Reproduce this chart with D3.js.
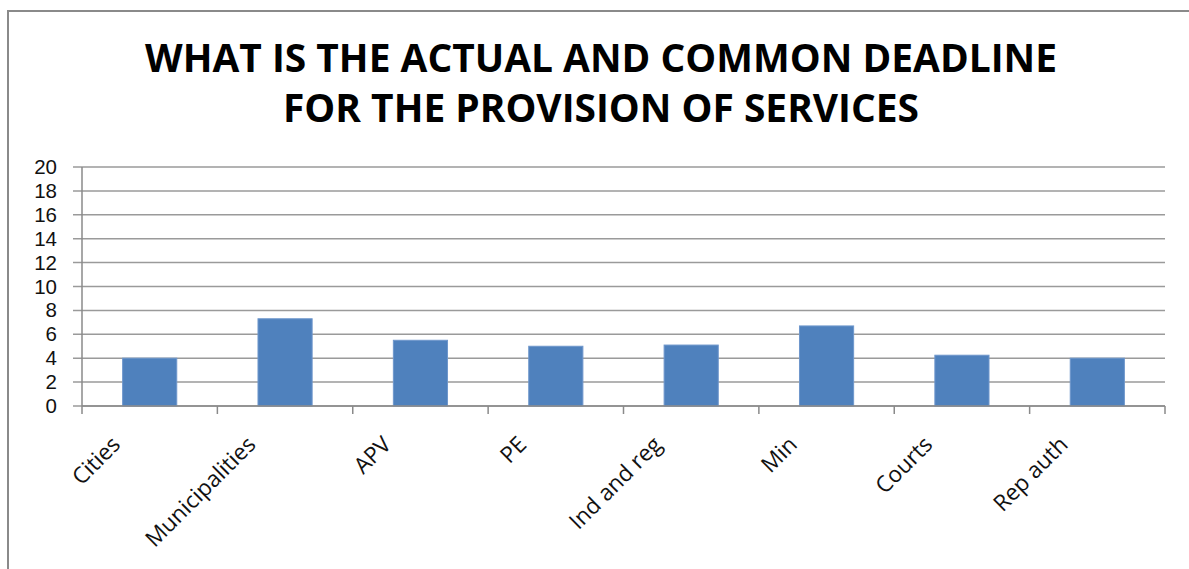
<!DOCTYPE html>
<html>
<head>
<meta charset="utf-8">
<script src="https://cdn.jsdelivr.net/npm/d3@7"></script>
<style>
  body { margin: 0; background: #fff; }
</style>
</head>
<body>
<div id="chart"></div>
<script>

// categories and average deadline per institution type
const categories = ["Cities", "Municipalities", "APV", "PE", "Ind and reg", "Min", "Courts", "Rep auth"];
const deadlines = [4.0, 7.3, 5.5, 5.0, 5.1, 6.7, 4.25, 4.0];
const yTicks = [0, 2, 4, 6, 8, 10, 12, 14, 16, 18, 20];
const titleLines = ["WHAT IS THE ACTUAL AND COMMON DEADLINE", "FOR THE PROVISION OF SERVICES"];

function main() {

    const W = 1189, H = 569;
    const margin = {top: 167, right: 24, bottom: 163, left: 82},
        width = W - margin.left - margin.right,
        height = H - margin.top - margin.bottom;

    const root = d3.select("#chart")
        .append("svg")
        .attr("width", W)
        .attr("height", H);

    // chart area border
    root.append("rect")
        .attr("x", 8)
        .attr("y", 11)
        .attr("width", W)
        .attr("height", H)
        .attr("fill", "#fff")
        .attr("stroke", "#8a8a8a")
        .attr("stroke-width", 2);

    // title, two centred lines
    root.selectAll(".title")
        .data(titleLines)
        .join("text")
        .attr("class", "title")
        .attr("x", 601)
        .attr("y", (d, i) => 72 + i * 50)
        .attr("text-anchor", "middle")
        .attr("font-family", "'Open Sans', sans-serif")
        .attr("font-weight", "bold")
        .attr("font-size", "40px")
        .attr("textLength", (d, i) => i === 0 ? 912 : 636)
        .attr("lengthAdjust", "spacingAndGlyphs")
        .text(d => d);

    const svg = root.append("g")
        .attr("transform", `translate(${margin.left},${margin.top})`);

    const x = d3.scaleBand()
        .domain(categories)
        .range([0, width])
        .paddingInner(0.6)
        .paddingOuter(0.3);

    const y = d3.scaleLinear()
        .domain([0, 20])
        .range([height, 0]);

    // horizontal gridlines, running into the left ticks
    svg.append("g")
        .selectAll("line")
        .data(yTicks)
        .join("line")
        .attr("x1", -9)
        .attr("x2", width)
        .attr("y1", d => y(d))
        .attr("y2", d => y(d))
        .attr("stroke", "#9a9a9a")
        .attr("stroke-width", 1.5);

    // y axis labels
    const yAxis = svg.append("g")
        .call(d3.axisLeft(y).tickValues(yTicks).tickSize(0).tickPadding(25));
    yAxis.select(".domain").remove();
    yAxis.selectAll("text")
        .attr("font-family", "'Liberation Sans', sans-serif")
        .attr("font-size", "20.5px")
        .attr("fill", "#111");

    svg.append("line")
        .attr("x1", 0).attr("x2", 0)
        .attr("y1", 0).attr("y2", height)
        .attr("stroke", "#8a8a8a")
        .attr("stroke-width", 1.5);

    // bars
    svg.append("g")
        .selectAll("rect")
        .data(categories)
        .join("rect")
        .attr("x", d => x(d))
        .attr("y", (d, i) => y(deadlines[i]))
        .attr("width", x.bandwidth())
        .attr("height", (d, i) => height - y(deadlines[i]))
        .attr("fill", "#4f81bd")
        .attr("stroke", "#6f97cc")
        .attr("stroke-width", 1);

    // x axis with ticks between categories
    const step = x.step();
    svg.append("line")
        .attr("x1", 0).attr("x2", width)
        .attr("y1", height).attr("y2", height)
        .attr("stroke", "#8a8a8a")
        .attr("stroke-width", 1.5);
    svg.append("g")
        .selectAll("line")
        .data(d3.range(categories.length + 1))
        .join("line")
        .attr("x1", i => i * step)
        .attr("x2", i => i * step)
        .attr("y1", height)
        .attr("y2", height + 8)
        .attr("stroke", "#8a8a8a")
        .attr("stroke-width", 1.5);

    // rotated category labels
    svg.append("g")
        .selectAll("text")
        .data(categories)
        .join("text")
        .attr("transform", d => `translate(${x(d) + x.bandwidth() / 2 - 28},${height + 40}) rotate(-45)`)
        .attr("text-anchor", "end")
        .attr("font-family", "'Open Sans', sans-serif")
        .attr("font-size", "22.5px")
        .attr("fill", "#111")
        .text(d => d);
}

main()
</script>
</body>
</html>
